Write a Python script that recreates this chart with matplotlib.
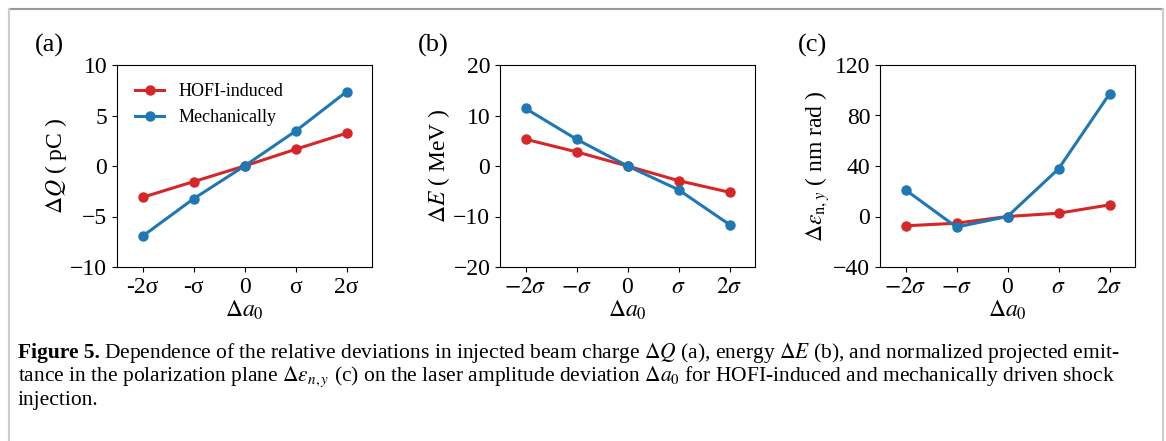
import matplotlib
matplotlib.use("Agg")
import matplotlib.pyplot as plt
from matplotlib.lines import Line2D

plt.rcParams['font.family'] = 'serif'
plt.rcParams['font.serif'] = ['Liberation Serif', 'DejaVu Serif']
plt.rcParams['mathtext.fontset'] = 'stix'

# data
x_pos = [-2, -1, 0, 1, 2]
xlabels_a = ['-2σ', '-σ', '0', 'σ', '2σ']
xlabels_bc = [r'$-2\sigma$', r'$-\sigma$', '0', r'$\sigma$', r'$2\sigma$']

charge_hofi = [-3.1, -1.55, 0.0, 1.65, 3.25]
charge_mech = [-6.95, -3.25, 0.0, 3.45, 7.35]
energy_hofi = [5.3, 2.8, 0.0, -2.9, -5.2]
energy_mech = [11.4, 5.3, 0.0, -4.7, -11.6]
emit_hofi = [-7.4, -5.3, 0.0, 2.6, 9.2]
emit_mech = [21.1, -8.4, 0.0, 37.7, 97.1]

yticks_a = [-10, -5, 0, 5, 10]
yticks_b = [-20, -10, 0, 10, 20]
yticks_c = [-40, 0, 40, 80, 120]

RED = '#d62728'
BLUE = '#1f77b4'

W, H = 1166, 441
fig = plt.figure(figsize=(W / 100, H / 100), dpi=100)


def px_axes(left, top, right, bottom):
    return fig.add_axes([left / W, 1 - bottom / H, (right - left) / W, (bottom - top) / H])


panels = [
    (117, charge_hofi, charge_mech, yticks_a, xlabels_a, r'$\Delta Q$ ( pC )', '(a)'),
    (500, energy_hofi, energy_mech, yticks_b, xlabels_bc, r'$\Delta E$ ( MeV )', '(b)'),
    (880, emit_hofi, emit_mech, yticks_c, xlabels_bc,
     r'$\Delta\varepsilon_{\mathrm{n},y}$ ( nm rad )', '(c)'),
]

for i, (left, hofi, mech, yt, xl, ylab, tag) in enumerate(panels):
    ax = px_axes(left, 65, left + 255, 267)
    ax.plot(x_pos, hofi, '-o', color=RED, lw=2.2, ms=6.5, label='HOFI-induced')
    ax.plot(x_pos, mech, '-o', color=BLUE, lw=2.2, ms=6.5, label='Mechanically')
    ax.set_xlim(-2.5, 2.5)
    ax.set_ylim(yt[0], yt[-1])
    ax.set_yticks(yt)
    ax.set_xticks(x_pos)
    ax.set_xticklabels(xl)
    ax.tick_params(labelsize=17)
    ax.set_ylabel(ylab, fontsize=17, labelpad=1)
    ax.set_xlabel(r'$\Delta a_0$', fontsize=17, labelpad=1)
    fig.text((left - 82) / W, 1 - 45 / H, tag, fontsize=19, va='center', ha='left')
    if i == 0:
        ax.legend(loc='upper left', frameon=False, fontsize=13, handlelength=1.6,
                  handletextpad=0.8, borderaxespad=0.6, labelspacing=0.5)

# caption
cap_size = 15.5
fig.text(18 / W, 1 - 353 / H, 'Figure 5.', fontsize=cap_size, fontweight='bold',
         va='center', ha='left')
fig.canvas.draw()
r = fig.canvas.get_renderer()
bold = fig.texts[-1]
bw = bold.get_window_extent(r).width
fig.text((18 + bw + 4) / W, 1 - 353 / H,
         r'Dependence of the relative deviations in injected beam charge $\Delta Q$ (a), '
         r'energy $\Delta E$ (b), and normalized projected emit-',
         fontsize=cap_size, va='center', ha='left')
fig.text(18 / W, 1 - 377 / H,
         r'tance in the polarization plane $\Delta\epsilon_{n,y}$ (c) on the laser amplitude '
         r'deviation $\Delta a_0$ for HOFI-induced and mechanically driven shock',
         fontsize=cap_size, va='center', ha='left')
fig.text(18 / W, 1 - 401 / H, 'injection.', fontsize=cap_size, va='center', ha='left')

# frame around the figure
fig.add_artist(Line2D([8.5 / W, 1162.5 / W], [1 - 8.5 / H, 1 - 8.5 / H],
                      transform=fig.transFigure, color='#999999', lw=1.5))
fig.add_artist(Line2D([8.5 / W, 8.5 / W], [0, 1 - 8.5 / H],
                      transform=fig.transFigure, color='#cccccc', lw=1.5))
fig.add_artist(Line2D([1162.5 / W, 1162.5 / W], [0, 1 - 8.5 / H],
                      transform=fig.transFigure, color='#cccccc', lw=1.5))

fig.savefig('out.png', dpi=100)
